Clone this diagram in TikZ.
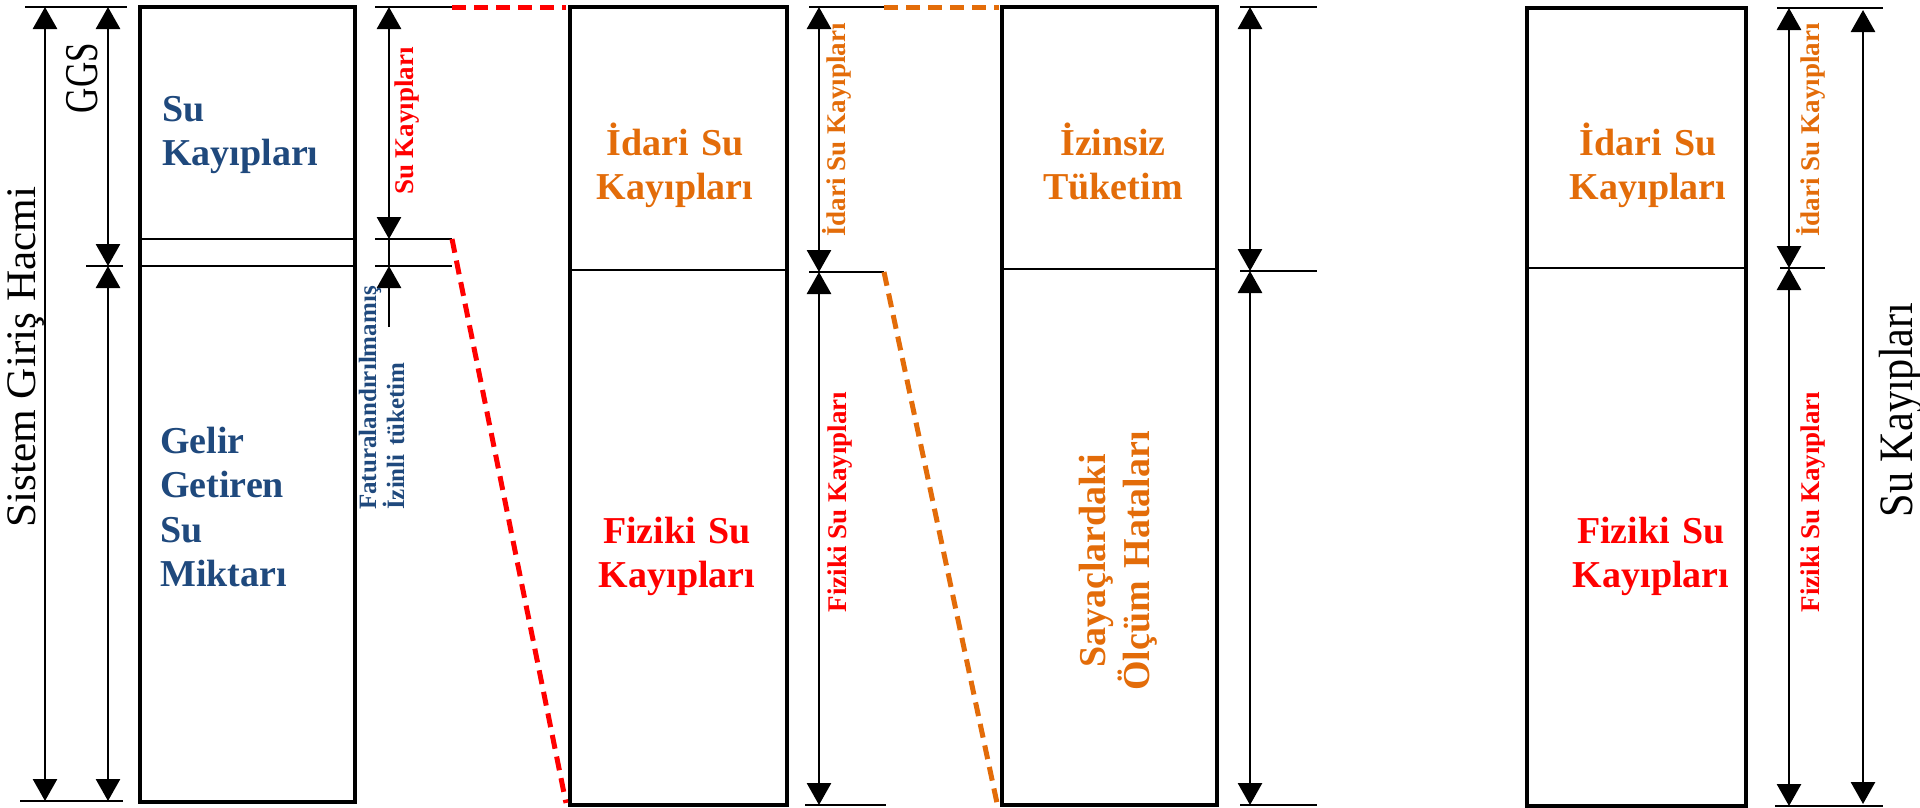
\documentclass[tikz,border=0pt]{standalone}
\usepackage{fontspec}
\setmainfont{Liberation Serif}
\usetikzlibrary{arrows.meta}
\definecolor{tblue}{HTML}{1F497D}
\definecolor{torange}{HTML}{E36C09}
\definecolor{tred}{HTML}{FF0000}
\newcommand{\myfs}[2]{\fontsize{#1}{#2}\selectfont}
\tikzset{
  boxline/.style={draw=black, line width=3.4pt, fill=white},
  divline/.style={line width=2.8pt},
  tickline/.style={line width=2.8pt},
  dimboth/.style={line width=2.8pt, {Triangle[length=22pt,width=24pt]}-{Triangle[length=22pt,width=24pt]}},
  dimone/.style={line width=2.8pt, -{Triangle[length=22pt,width=24pt]}},
  reddash/.style={tred, line width=5pt, dash pattern=on 14pt off 8pt},
  orgdash/.style={torange, line width=5pt, dash pattern=on 14pt off 8pt},
  boxtext/.style={inner sep=0pt, font=\bfseries\myfs{38}{44.5}},
  sidetext/.style={inner sep=0pt, rotate=90, anchor=base, font=\bfseries\myfs{27}{30}},
  bigtext/.style={inner sep=0pt, rotate=90, anchor=base},
}
\begin{document}
\begin{tikzpicture}[x=1pt,y=-1pt]
\useasboundingbox[fill=white] (0,0) rectangle (1920,807);

% ---------------- boxes ----------------
\draw[boxline] (140,7) rectangle (355,802);
\draw[divline] (140,239) -- (355,239);
\draw[divline] (140,266) -- (355,266);

\draw[boxline] (570,7) rectangle (787,805);
\draw[divline] (570,270) -- (787,270);

\draw[boxline] (1002,7) rectangle (1217,805);
\draw[divline] (1002,269) -- (1217,269);

\draw[boxline] (1527,8) rectangle (1746,806);
\draw[divline] (1527,268) -- (1746,268);

% ---------------- left dimensions ----------------
\coordinate (l1a) at (25,7);   \coordinate (l1b) at (127,7);
\coordinate (l2a) at (86,266); \coordinate (l2b) at (123,266);
\coordinate (l3a) at (20,801); \coordinate (l3b) at (123,801);
\draw[tickline] (l1a) -- (l1b);
\draw[tickline] (l2a) -- (l2b);
\draw[tickline] (l3a) -- (l3b);
\coordinate (sgTop) at (45,7);  \coordinate (sgBot) at (45,801);
\coordinate (gTop) at (108,7);  \coordinate (gMid) at (108,266); \coordinate (gBot) at (108,801);
\draw[dimboth] (sgTop) -- (sgBot);
\draw[dimboth] (gTop) -- (gMid);
\draw[dimboth] (gMid) -- (gBot);

% ---------------- right of left box ----------------
\coordinate (r1a) at (375,7);   \coordinate (r1b) at (452,7);
\coordinate (r2a) at (375,239); \coordinate (r2b) at (452,239);
\coordinate (r3a) at (375,266); \coordinate (r3b) at (452,266);
\draw[tickline] (r1a) -- (r1b);
\draw[tickline] (r2a) -- (r2b);
\draw[tickline] (r3a) -- (r3b);
\coordinate (skTop) at (389,7); \coordinate (skBot) at (389,239);
\coordinate (fiTop) at (389,266); \coordinate (fiBot) at (389,327);
\draw[dimboth] (skTop) -- (skBot);
\draw[divline] (skBot) -- (fiTop);
\draw[dimone] (fiBot) -- (fiTop);

% red dashed connectors
\coordinate (redTopEnd) at (566,7);
\coordinate (redBotEnd) at (566,803);
\draw[reddash] (r1b) -- (redTopEnd);
\draw[reddash] (r2b) -- (redBotEnd);

% ---------------- middle dimensions ----------------
\coordinate (m1a) at (809,7);   \coordinate (m1b) at (884,7);
\coordinate (m2a) at (809,272); \coordinate (m2b) at (884,272);
\coordinate (m3a) at (805,805); \coordinate (m3b) at (886,805);
\draw[tickline] (m1a) -- (m1b);
\draw[tickline] (m2a) -- (m2b);
\draw[tickline] (m3a) -- (m3b);
\coordinate (mTop) at (819,7); \coordinate (mMid) at (819,272); \coordinate (mBot) at (819,805);
\draw[dimboth] (mTop) -- (mMid);
\draw[dimboth] (mMid) -- (mBot);

% orange dashed connectors
\coordinate (orgTopEnd) at (999,7);
\coordinate (orgBotEnd) at (997,803);
\draw[orgdash] (m1b) -- (orgTopEnd);
\draw[orgdash] (m2b) -- (orgBotEnd);

% ---------------- box 2 dimensions ----------------
\coordinate (n1a) at (1240,7);   \coordinate (n1b) at (1317,7);
\coordinate (n2a) at (1240,271); \coordinate (n2b) at (1317,271);
\coordinate (n3a) at (1240,805); \coordinate (n3b) at (1317,805);
\draw[tickline] (n1a) -- (n1b);
\draw[tickline] (n2a) -- (n2b);
\draw[tickline] (n3a) -- (n3b);
\coordinate (nTop) at (1250,7); \coordinate (nMid) at (1250,271); \coordinate (nBot) at (1250,805);
\draw[dimboth] (nTop) -- (nMid);
\draw[dimboth] (nMid) -- (nBot);

% ---------------- box 3 dimensions ----------------
\coordinate (p1a) at (1777,8);   \coordinate (p1b) at (1883,8);
\coordinate (p2a) at (1780,268); \coordinate (p2b) at (1825,268);
\coordinate (p3a) at (1775,806); \coordinate (p3b) at (1883,806);
\draw[tickline] (p1a) -- (p1b);
\draw[tickline] (p2a) -- (p2b);
\draw[tickline] (p3a) -- (p3b);
\coordinate (pTop) at (1789,8); \coordinate (pMid) at (1789,268); \coordinate (pBot) at (1789,806);
\draw[dimboth] (pTop) -- (pMid);
\draw[dimboth] (pMid) -- (pBot);
\coordinate (qTop) at (1863,10); \coordinate (qBot) at (1863,804);
\draw[dimboth] (qTop) -- (qBot);

% ---------------- texts ----------------
\node[bigtext, font=\myfs{42}{50}] (tSGH) at (35,357) {\scalebox{1.03}[1]{Sistem Giriş Hacmi}};
\node[bigtext, font=\myfs{47}{50}] (tGGS) at (97,78) {\scalebox{0.745}[1]{GGS}};
\node[boxtext, tblue, anchor=base west, text width=190pt, align=left] (tSK) at (162,121) {Su\\Kayıpları};
\node[boxtext, tblue, anchor=base west, text width=190pt, align=left] (tGGSM) at (160,453) {Gelir\\Getiren\\Su\\Miktarı};
\node[sidetext, tred] (tSKside) at (413,121) {Su Kayıpları};
\node[inner sep=0pt, rotate=90, anchor=base west, text width=260pt, align=left, tblue, font=\bfseries\myfs{25}{28}] (tFat) at (376,510) {Faturalandırılmamış\\İzinli tüketim};

\node[boxtext, torange, anchor=base, text width=210pt, align=center] (tIdari1) at (675,155) {İdari Su\\Kayıpları};
\node[boxtext, tred, anchor=base, text width=210pt, align=center] (tFiz1) at (677,543) {Fiziki Su\\Kayıpları};
\node[sidetext, torange] (tIdariS1) at (845,130) {İdari Su Kayıpları};
\node[sidetext, tred] (tFizS1) at (846,502) {Fiziki Su Kayıpları};

\node[boxtext, torange, anchor=base, text width=210pt, align=center] (tIzin) at (1113,155) {İzinsiz\\Tüketim};
\node[boxtext, torange, rotate=90, anchor=base, text width=320pt, align=center] (tSay) at (1105,561) {Sayaçlardaki\\Ölçüm Hataları};

\node[boxtext, torange, anchor=base, text width=210pt, align=center] (tIdari2) at (1648,155) {İdari Su\\Kayıpları};
\node[boxtext, tred, anchor=base, text width=210pt, align=center] (tFiz2) at (1651,543) {Fiziki Su\\Kayıpları};
\node[sidetext, torange] (tIdariS2) at (1819,130) {İdari Su Kayıpları};
\node[sidetext, tred] (tFizS2) at (1819,502) {Fiziki Su Kayıpları};

\node[bigtext, font=\myfs{48}{50}] (tSKbig) at (1912,410) {\scalebox{0.88}[1]{Su Kayıpları}};
\end{tikzpicture}
\end{document}
